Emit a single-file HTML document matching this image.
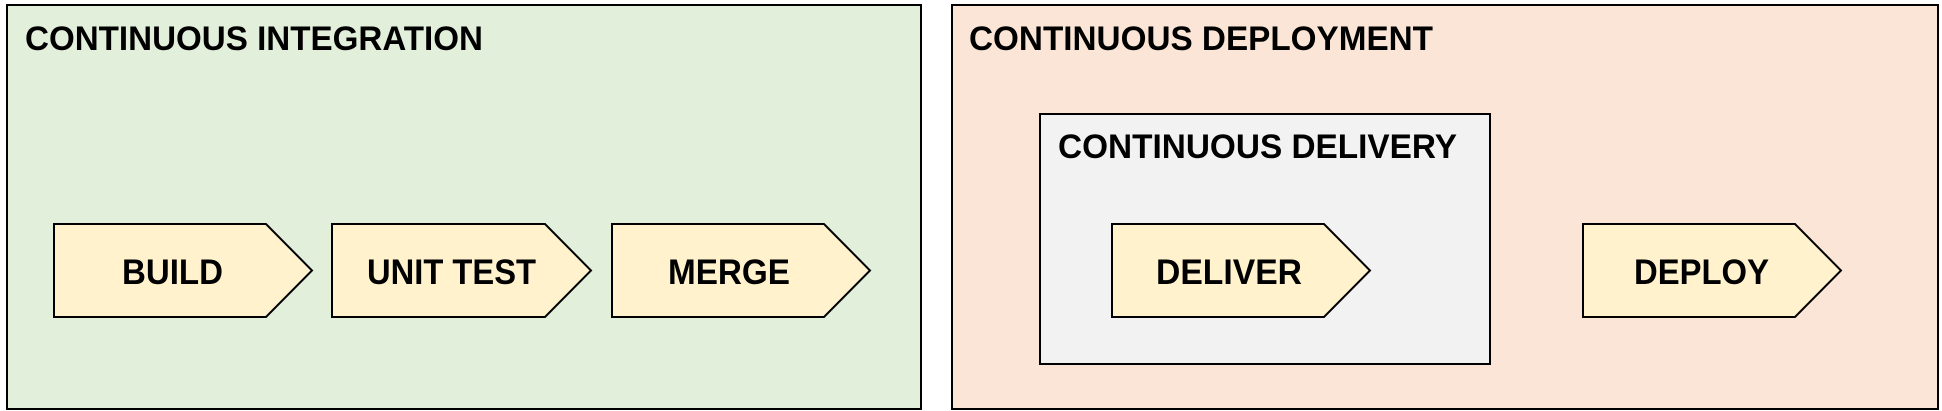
<!DOCTYPE html>
<html><head><meta charset="utf-8"><style>
html,body{margin:0;padding:0;background:#fff;}
svg{display:block;}
text{font-family:"Liberation Sans",sans-serif;font-weight:bold;fill:#000;}
</style></head><body>
<svg width="1942" height="411" viewBox="0 0 1942 411" xmlns="http://www.w3.org/2000/svg">
<rect x="7" y="5" width="914" height="404" fill="#e2efdb" stroke="#000" stroke-width="2"/>
<rect x="952" y="5" width="986" height="404" fill="#fbe5d6" stroke="#000" stroke-width="2"/>
<rect x="1040" y="114" width="450" height="250" fill="#f2f2f2" stroke="#000" stroke-width="2"/>
<g fill="#fff2cc" stroke="#000" stroke-width="2">
<polygon points="54,224 266,224 312,270.5 266,317 54,317"/>
<polygon points="332,224 545,224 591,270.5 545,317 332,317"/>
<polygon points="612,224 824,224 870,270.5 824,317 612,317"/>
<polygon points="1112,224 1324,224 1370,270.5 1324,317 1112,317"/>
<polygon points="1583,224 1795,224 1841,270.5 1795,317 1583,317"/>
</g>
<g font-size="34">
<text x="25" y="50" textLength="458" lengthAdjust="spacingAndGlyphs">CONTINUOUS INTEGRATION</text>
<text x="969" y="50" textLength="464" lengthAdjust="spacingAndGlyphs">CONTINUOUS DEPLOYMENT</text>
<text x="1058" y="158" textLength="399" lengthAdjust="spacingAndGlyphs">CONTINUOUS DELIVERY</text>
</g>
<g font-size="35">
<text x="122" y="284" textLength="101" lengthAdjust="spacingAndGlyphs">BUILD</text>
<text x="367" y="284" textLength="169" lengthAdjust="spacingAndGlyphs">UNIT TEST</text>
<text x="668" y="284" textLength="122" lengthAdjust="spacingAndGlyphs">MERGE</text>
<text x="1156" y="284" textLength="146" lengthAdjust="spacingAndGlyphs">DELIVER</text>
<text x="1634" y="284" textLength="135" lengthAdjust="spacingAndGlyphs">DEPLOY</text>
</g>
</svg>
</body></html>
